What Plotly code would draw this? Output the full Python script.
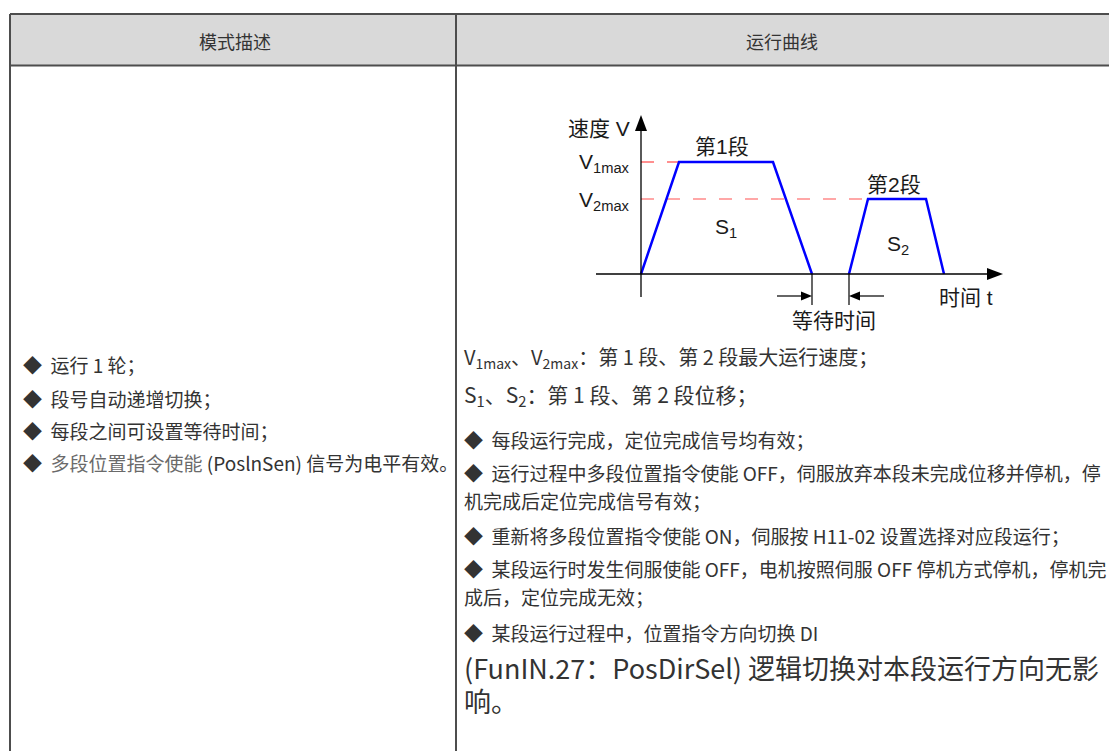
import plotly.graph_objects as go

W, H = 1109, 751

# ---- data (schematic speed profile, time and speed in arbitrary units) ----
seg1_time = [0, 38, 132, 171]
seg1_speed = [0, 112, 112, 0]
seg2_time = [208, 227, 285, 303]
seg2_speed = [0, 75, 75, 0]
v1max = 112
v2max = 75

header_labels = ["模式描述", "运行曲线"]
left_items = [
    "◆  运行 1 轮；",
    "◆  段号自动递增切换；",
    "◆  每段之间可设置等待时间；",
    "◆  <span style='color:#6a6a6a'>多段位置指令使能</span> (PoslnSen) 信号为电平有效。",
]
left_y = [365, 398, 430, 462]
right_items = [
    ("V<sub>1max</sub>、V<sub>2max</sub>：第 1 段、第 2 段最大运行速度；", 357, 20),
    ("S<sub>1</sub>、S<sub>2</sub>：第 1 段、第 2 段位移；", 395, 21),
    ("◆  每段运行完成，定位完成信号均有效；", 439, 19),
    ("◆  运行过程中多段位置指令使能 OFF，伺服放弃本段未完成位移并停机，停", 472, 19),
    ("机完成后定位完成信号有效；", 500, 19),
    ("◆  重新将多段位置指令使能 ON，伺服按 H11-02 设置选择对应段运行；", 535, 19),
    ("◆  某段运行时发生伺服使能 OFF，电机按照伺服 OFF 停机方式停机，停机完", 568, 19),
    ("成后，定位完成无效；", 596, 19),
    ("◆  某段运行过程中，位置指令方向切换 DI", 632, 19),
    ("(FunIN.27：PosDirSel) 逻辑切换对本段运行方向无影", 667, 27),
    ("响。", 700, 27),
]


def px(x):
    return x / W


def py(y):
    return 1 - y / H


CJK = "Noto Sans CJK SC"
CHART_FONT = "Liberation Sans, Noto Sans CJK SC"
TXT = "#333333"
BORDER = "#4d4d4d"

fig = go.Figure()

# origin of inset chart in pixels
ox, oy = 641, 274
x_lo, x_hi = 560, 1030
y_top, y_bot = 100, 330

# speed profile traces
fig.add_trace(go.Scatter(x=seg1_time, y=seg1_speed, mode="lines",
                         line=dict(color="#0000ff", width=2.5),
                         xaxis="x2", yaxis="y2", hoverinfo="skip", showlegend=False))
fig.add_trace(go.Scatter(x=seg2_time, y=seg2_speed, mode="lines",
                         line=dict(color="#0000ff", width=2.5),
                         xaxis="x2", yaxis="y2", hoverinfo="skip", showlegend=False))

shapes = []
# table header background
shapes.append(dict(type="rect", xref="paper", yref="paper",
                   x0=px(10), x1=px(W + 5), y0=py(66), y1=py(14),
                   fillcolor="#d9d9d9", line=dict(width=0), layer="below"))
# table lines
for (x0, y0, x1, y1) in [(10, 14, W + 5, 14), (10, 65.5, W + 5, 65.5),
                         (10, 14, 10, H + 5), (456, 14, 456, H + 5)]:
    shapes.append(dict(type="line", xref="paper", yref="paper",
                       x0=px(x0), y0=py(y0), x1=px(x1), y1=py(y1),
                       line=dict(color=BORDER, width=2)))

# red dashed reference lines
shapes.append(dict(type="line", xref="x2", yref="y2", x0=0, y0=v1max,
                   x1=seg1_time[1], y1=v1max, layer="below",
                   line=dict(color="#ff2020", width=1.2, dash="13px,13px")))
shapes.append(dict(type="line", xref="x2", yref="y2", x0=0, y0=v2max,
                   x1=seg2_time[1], y1=v2max, layer="below",
                   line=dict(color="#ff5050", width=1.2, dash="13px,13px")))

# axes
x_axis_start, x_axis_tip = -45, 362
y_axis_start, y_axis_tip = -23, 159
shapes.append(dict(type="line", xref="x2", yref="y2", x0=x_axis_start, y0=0,
                   x1=x_axis_tip - 10, y1=0, line=dict(color="black", width=1.3)))
shapes.append(dict(type="line", xref="x2", yref="y2", x0=0, y0=y_axis_start,
                   x1=0, y1=y_axis_tip - 10, line=dict(color="black", width=1.3)))
shapes.append(dict(type="path", xref="x2", yref="y2",
                   path=f"M {x_axis_tip},0 L {x_axis_tip-16},6 L {x_axis_tip-16},-6 Z",
                   fillcolor="black", line=dict(width=0)))
shapes.append(dict(type="path", xref="x2", yref="y2",
                   path=f"M 0,{y_axis_tip} L -6,{y_axis_tip-16} L 6,{y_axis_tip-16} Z",
                   fillcolor="black", line=dict(width=0)))

# wait time markers
t_end1 = seg1_time[-1]
t_start2 = seg2_time[0]
for t in (t_end1, t_start2):
    shapes.append(dict(type="line", xref="x2", yref="y2", x0=t, y0=0, x1=t, y1=-31,
                       line=dict(color="black", width=1.2)))
shapes.append(dict(type="line", xref="x2", yref="y2", x0=t_end1 - 35, y0=-22,
                   x1=t_end1 - 8, y1=-22, line=dict(color="black", width=1.2)))
shapes.append(dict(type="path", xref="x2", yref="y2",
                   path=f"M {t_end1},-22 L {t_end1-11},-17.5 L {t_end1-11},-26.5 Z",
                   fillcolor="black", line=dict(width=0)))
shapes.append(dict(type="line", xref="x2", yref="y2", x0=t_start2 + 8, y0=-22,
                   x1=t_start2 + 35, y1=-22, line=dict(color="black", width=1.2)))
shapes.append(dict(type="path", xref="x2", yref="y2",
                   path=f"M {t_start2},-22 L {t_start2+11},-17.5 L {t_start2+11},-26.5 Z",
                   fillcolor="black", line=dict(width=0)))

ann = []
# header texts
ann.append(dict(text=header_labels[0], x=px(235), y=py(41), xref="paper", yref="paper",
                xanchor="center", yanchor="middle",
                showarrow=False, font=dict(family=CJK, size=18, color=TXT)))
ann.append(dict(text=header_labels[1], x=px(782), y=py(41), xref="paper", yref="paper",
                xanchor="center", yanchor="middle",
                showarrow=False, font=dict(family=CJK, size=18, color=TXT)))

for txt, y in zip(left_items, left_y):
    ann.append(dict(text=txt, x=px(21), y=py(y), xref="paper", yref="paper",
                    xanchor="left", yanchor="middle", showarrow=False,
                    font=dict(family=CJK, size=19, color=TXT)))
for txt, y, s in right_items:
    ann.append(dict(text=txt, x=px(462), y=py(y), xref="paper", yref="paper",
                    xanchor="left", yanchor="middle", showarrow=False,
                    font=dict(family=CJK, size=s, color=TXT)))

# chart labels (pixel positions)
chart_labels = [
    ("速度 V", 599, 128, "center", 21),
    ("V<sub>1max</sub>", 577, 163, "left", 21),
    ("V<sub>2max</sub>", 577, 201, "left", 21),
    ("第1段", 722, 146, "center", 21),
    ("第2段", 894, 185, "center", 21),
    ("S<sub>1</sub>", 726, 228, "center", 21),
    ("S<sub>2</sub>", 898, 245, "center", 21),
    ("时间 t", 966, 298, "center", 21),
    ("等待时间", 834, 320, "center", 21),
]
for txt, x, y, xa, s in chart_labels:
    ann.append(dict(text=txt, x=px(x), y=py(y), xref="paper", yref="paper",
                    xanchor=xa, yanchor="middle", showarrow=False,
                    font=dict(family=CHART_FONT, size=s, color="#1a1a1a")))

fig.update_layout(
    width=W, height=H,
    margin=dict(l=0, r=0, t=0, b=0),
    paper_bgcolor="white", plot_bgcolor="rgba(0,0,0,0)",
    shapes=shapes, annotations=ann,
    xaxis=dict(visible=False, domain=[0, 1], range=[0, 1]),
    yaxis=dict(visible=False, domain=[0, 1], range=[0, 1]),
    xaxis2=dict(visible=False, domain=[px(x_lo), px(x_hi)],
                range=[x_lo - ox, x_hi - ox], anchor="y2", fixedrange=True),
    yaxis2=dict(visible=False, domain=[py(y_bot), py(y_top)],
                range=[oy - y_bot, oy - y_top], anchor="x2", fixedrange=True),
    showlegend=False,
)

fig.write_html("out.html", config={"displayModeBar": False},
               post_script="document.body.style.margin='0';document.body.style.padding='0';")
